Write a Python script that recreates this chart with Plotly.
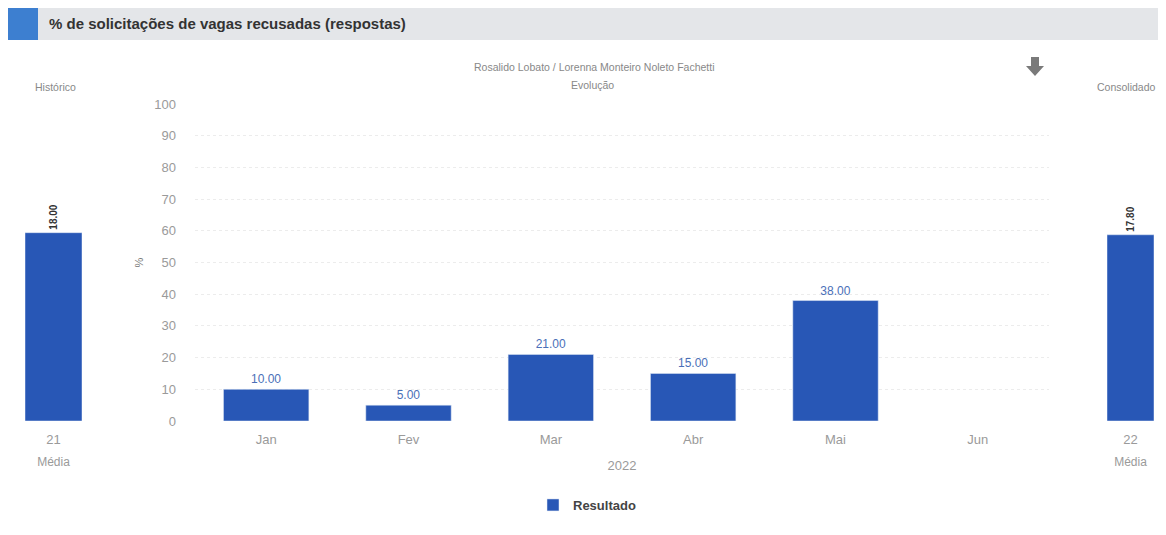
import plotly.graph_objects as go

months = ["Jan", "Fev", "Mar", "Abr", "Mai", "Jun"]
resultado = [10, 5, 21, 15, 38, None]
hist_cat = ["21"]
hist_val = [18.0]
cons_cat = ["22"]
cons_val = [17.8]
y_ticks = list(range(0, 101, 10))

BLUE = "#2857b6"
OFF = 8  # page body margin
W, H = 1166 - 2 * OFF, 535 - 2 * OFF

def px(x):
    return (x - OFF) / W

def py(y):
    return 1 - (y - OFF) / H

fig = go.Figure()

fig.add_trace(go.Bar(
    x=months, y=resultado, name="<b>Resultado</b>", marker_color=BLUE,
    text=[f"{v:.2f}" if v is not None else "" for v in resultado],
    textposition="outside", textfont=dict(color="#4a6fb8", size=12, family="Arial"),
    cliponaxis=False, xaxis="x", yaxis="y", width=0.6,
))
fig.add_trace(go.Bar(
    x=hist_cat, y=hist_val, marker_color=BLUE, showlegend=False,
    text=[f"<b>{v:.2f}</b>" for v in hist_val], textposition="outside",
    textangle=-90, textfont=dict(color="#333", size=10, family="Arial"),
    cliponaxis=False, xaxis="x2", yaxis="y2", width=1,
))
fig.add_trace(go.Bar(
    x=cons_cat, y=cons_val, marker_color=BLUE, showlegend=False,
    text=[f"<b>{v:.2f}</b>" for v in cons_val], textposition="outside",
    textangle=-90, textfont=dict(color="#333", size=10, family="Arial"),
    cliponaxis=False, xaxis="x3", yaxis="y3", width=1,
))

ydom = [py(421), py(104)]
tickfont = dict(color="#9a9a9a", size=13, family="Arial")

fig.update_layout(
    width=W, height=H, margin=dict(l=0, r=0, t=0, b=0, autoexpand=False),
    paper_bgcolor="white", plot_bgcolor="white",
    font=dict(family="Arial"),
    xaxis=dict(domain=[px(195), px(1049)], tickfont=tickfont, showgrid=False, automargin=False,
               title=dict(text="2022", font=dict(color="#9a9a9a", size=13), standoff=14),
               ticks="", ticklabelstandoff=9, showline=False, zeroline=False),
    yaxis=dict(domain=ydom, range=[0, 100], tickvals=y_ticks, tickfont=tickfont, automargin=False,
               showgrid=True, gridcolor="#ececec", griddash="dot", zeroline=False,
               ticklabelstandoff=18,
               title=dict(text="%", font=dict(color="#777", size=11), standoff=8)),
    xaxis2=dict(domain=[px(25), px(82)], anchor="y2", tickfont=tickfont, showgrid=False,
                automargin=False, ticklabelstandoff=9,
                title=dict(text="Média", font=dict(color="#9a9a9a", size=12), standoff=11)),
    yaxis2=dict(domain=ydom, anchor="x2", range=[0, 30.3], visible=False, automargin=False),
    xaxis3=dict(domain=[px(1107), px(1154)], anchor="y3", tickfont=tickfont, showgrid=False,
                automargin=False, ticklabelstandoff=9,
                title=dict(text="Média", font=dict(color="#9a9a9a", size=12), standoff=11)),
    yaxis3=dict(domain=ydom, anchor="x3", range=[0, 30.3], visible=False, automargin=False),
    bargap=0.4,
    showlegend=True,
    legend=dict(orientation="h", x=px(587), xanchor="center", y=py(505), yanchor="middle",
                font=dict(color="#444", size=13, family="Arial"), itemwidth=30),
)

# header band
fig.add_shape(type="rect", xref="paper", yref="paper", x0=px(8), x1=1, y0=py(40), y1=py(8),
              fillcolor="#e4e6e9", line_width=0, layer="below")
fig.add_shape(type="rect", xref="paper", yref="paper", x0=px(8), x1=px(38), y0=py(40), y1=py(8),
              fillcolor="#3d7fd0", line_width=0)
fig.add_annotation(text="<b>% de solicitações de vagas recusadas (respostas)</b>", xref="paper",
                   yref="paper", x=px(47), y=py(24), xanchor="left", yanchor="middle",
                   showarrow=False, font=dict(size=15, color="#333", family="Arial"))

small = dict(size=10.5, color="#888", family="Arial")
for txt, x, y in [("Rosalido Lobato / Lorenna Monteiro Noleto Fachetti", 594, 67),
                  ("Evolução", 592, 85), ("Histórico", 55, 87), ("Consolidado", 1126, 87)]:
    fig.add_annotation(text=txt, xref="paper", yref="paper", x=px(x), y=py(y),
                       xanchor="center", yanchor="middle", showarrow=False, font=small)

# download arrow icon
fig.add_shape(type="path", xref="paper", yref="paper",
              path=f"M {px(1031)} {py(57)} L {px(1039)} {py(57)} L {px(1039)} {py(66)} "
                   f"L {px(1044)} {py(66)} L {px(1035)} {py(76)} L {px(1026)} {py(66)} "
                   f"L {px(1031)} {py(66)} Z",
              fillcolor="#7a7a7a", line_width=0)

fig.write_html("out.html")
